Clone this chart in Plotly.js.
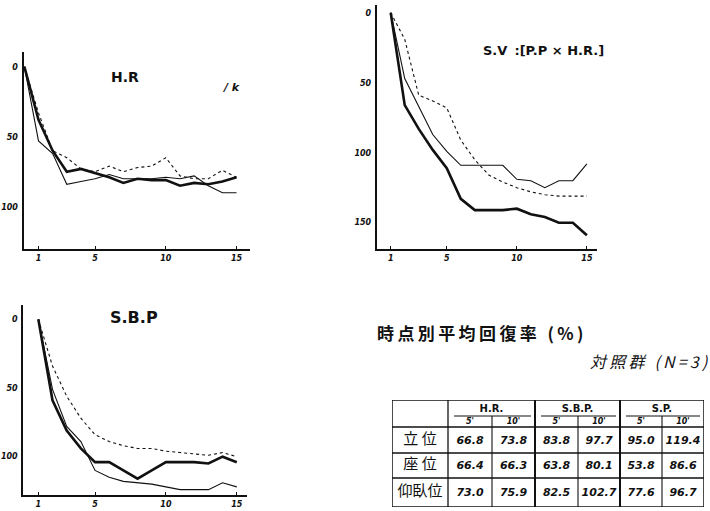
<!DOCTYPE html>
<html><head><meta charset="utf-8">
<script src="https://cdn.plot.ly/plotly-3.0.1.min.js"></script>
<style>html,body{margin:0;padding:0;background:#fff}#c{width:710px;height:511px}</style>
</head><body><div id="c"></div>
<script>
// ---- data ----
const xHR = [0,1,2,3,4,5,6,7,8,9,10,11,12,13,14,15];
const hrThick = [0,38,60,75,73,76,79,83,80,81,81,85,83,84,82,79];
const hrThin  = [0,53,62,84,82,80,77,80,80,80,79,80,78,85,90,90];
const hrDot   = [0,33,60,65,73,75,71,75,72,71,65,78,80,80,74,79];

const xMin = [1,2,3,4,5,6,7,8,9,10,11,12,13,14,15];
const svThick = [0,66,83,98,111,133,141,141,141,140,144,146,150,150,159];
const svThin  = [0,47,67,87,99,109,109,109,109,119,120,125,120,120,108];
const svDot   = [0,19,59,63,68,91,105,116,121,125,128,130,131,131,131];

const sbpThick = [0,59,81,94,104,104,110,116,110,104,104,104,105,100,104];
const sbpThin  = [0,51,78,89,110,115,118,119,120,122,124,124,124,119,122];
const sbpDot   = [0,34,56,72,84,89,92,94,94,96,97,98,99,97,100];

const xTicks = [1,5,10,15];
const yTicksHR = [0,50,100];
const yTicksSV = [0,50,100,150];
const yTicksSBP = [0,50,100];

const groupLabels = ['H.R.','S.B.P.','S.P.'];
const subLabels = ["5'","10'","5'","10'","5'","10'"];
const rowLabels = ['立 位','座 位','仰臥位'];
const tableValues = [
  ['66.8','73.8','83.8','97.7','95.0','119.4'],
  ['66.4','66.3','63.8','80.1','53.8','86.6'],
  ['73.0','75.9','82.5','102.7','77.6','96.7']
];

// ---- styling ----
const K = '#111';
const hand = {family:'DejaVu Sans', size:8, color:K, weight:700, style:'italic'};
function trio(x, thick, thin, dot, xa, ya){
  return [
    {x:x, y:dot, xaxis:xa, yaxis:ya, mode:'lines', line:{color:K, width:1.1, dash:'dot'}, hoverinfo:'skip'},
    {x:x, y:thin, xaxis:xa, yaxis:ya, mode:'lines', line:{color:K, width:1.1}, hoverinfo:'skip'},
    {x:x, y:thick, xaxis:xa, yaxis:ya, mode:'lines', line:{color:K, width:2.6}, hoverinfo:'skip'}
  ];
}
const W=710, H=511;
const px = (a,b)=>[a/W, b/W];
const py = (top,bot)=>[1-bot/H, 1-top/H];

function xax(dom, range){
  return {domain:dom, range:range, showline:true, linecolor:K, linewidth:2, showgrid:false, zeroline:false,
    tickmode:'array', tickvals:xTicks, ticktext:xTicks.map(String), ticks:'inside', ticklen:3, tickcolor:K,
    tickfont:hand, fixedrange:true};
}
function yax(dom, range, tv){
  return {domain:dom, range:range, showline:true, linecolor:K, linewidth:2, showgrid:false, zeroline:false,
    tickmode:'array', tickvals:tv, ticktext:tv.map(String), ticks:'', tickfont:hand, ticklabelstandoff:2, fixedrange:true};
}

let data = [];
data = data.concat(trio(xHR, hrThick, hrThin, hrDot, 'x', 'y'));
data = data.concat(trio(xMin, svThick, svThin, svDot, 'x2', 'y2'));
data = data.concat(trio(xMin, sbpThick, sbpThin, sbpDot, 'x3', 'y3'));

// ---- table on its own axes (pixel-like units) ----
const colEdges = [0,56,100,143,186,228,270,312];
const rowEdges = [0,27,53,78,107];
const underY = 16;
const tx=[], ty=[], tt=[];
rowLabels.forEach((r,i)=>{tx.push((colEdges[0]+colEdges[1])/2); ty.push((rowEdges[i+1]+rowEdges[i+2])/2); tt.push(r);});
const rowTrace = {x:tx, y:ty, text:tt, mode:'text', xaxis:'x4', yaxis:'y4',
  textfont:{family:'Noto Sans CJK JP', size:15, color:K}, hoverinfo:'skip'};
const nx=[], ny=[], nt=[];
tableValues.forEach((row,i)=>row.forEach((v,j)=>{nx.push((colEdges[j+1]+colEdges[j+2])/2); ny.push((rowEdges[i+1]+rowEdges[i+2])/2+1); nt.push(v);}));
const numTrace = {x:nx, y:ny, text:nt, mode:'text', xaxis:'x4', yaxis:'y4',
  textfont:{family:'DejaVu Sans', size:11, color:K, weight:600, style:'italic'}, hoverinfo:'skip'};
const gx=[], gy=[], gt=[];
groupLabels.forEach((g,k)=>{gx.push((colEdges[1+2*k]+colEdges[3+2*k])/2); gy.push(9.5); gt.push(g);});
const grpTrace = {x:gx, y:gy, text:gt, mode:'text', xaxis:'x4', yaxis:'y4',
  textfont:{family:'DejaVu Sans', size:10, color:K, weight:700}, hoverinfo:'skip'};
const sx=[], sy=[], st=[];
subLabels.forEach((s,j)=>{sx.push((colEdges[j+1]+colEdges[j+2])/2); sy.push(21.5); st.push(s);});
const subTrace = {x:sx, y:sy, text:st, mode:'text', xaxis:'x4', yaxis:'y4',
  textfont:{family:'DejaVu Sans', size:8, color:K, weight:700, style:'italic'}, hoverinfo:'skip'};
data.push(rowTrace, numTrace, grpTrace, subTrace);

const shapes = [];
function seg(x0,y0,x1,y1,w){shapes.push({type:'line', xref:'x4', yref:'y4', x0:x0, y0:y0, x1:x1, y1:y1, line:{color:K, width:w}});}
const L = colEdges[0], R = colEdges[colEdges.length-1], T = rowEdges[0], B = rowEdges[rowEdges.length-1];
seg(L,T,R,T,1.5); seg(L,B,R,B,1.5); seg(L,T,L,B,1.5); seg(R,T,R,B,1.5);
seg(colEdges[1],T,colEdges[1],B,1.3);
[3,5].forEach(k=>seg(colEdges[k],T,colEdges[k],B,2));
[2,4,6].forEach(k=>seg(colEdges[k],underY,colEdges[k],B,1.1));
for(let i=1;i<rowEdges.length-1;i++) seg(L,rowEdges[i],R,rowEdges[i],1.3);
[0,1,2].forEach(k=>seg(colEdges[1+2*k]+6,underY,colEdges[3+2*k]-4,underY,1));

const TS = '\u2009';
const ann = (text, x, y, font, xanchor) => ({text:text, xref:'paper', yref:'paper', x:x/W, y:1-y/H,
  xanchor:xanchor||'center', yanchor:'middle', showarrow:false, font:font});
const layout = {
  width:W, height:H, margin:{l:0,r:0,t:0,b:0}, paper_bgcolor:'#fff', plot_bgcolor:'rgba(0,0,0,0)',
  showlegend:false, font:{family:'DejaVu Sans', color:K},
  xaxis: xax(px(23.5,250), [-0.06,15.95]),
  yaxis: yax(py(52,249), [130.2,-10.5], yTicksHR),
  xaxis2: Object.assign(xax(px(376.7,596.7), [0,15.7]), {anchor:'y2'}),
  yaxis2: Object.assign(yax(py(5,249), [168.8,-5.5], yTicksSV), {anchor:'x2'}),
  xaxis3: Object.assign(xax(px(23.3,246.7), [-0.06,15.7]), {anchor:'y3'}),
  yaxis3: Object.assign(yax(py(305,495), [127.9,-10.4], yTicksSBP), {anchor:'x3'}),
  xaxis4: {domain:px(392,704), range:[0,312], visible:false, fixedrange:true, anchor:'y4'},
  yaxis4: {domain:py(400,507), range:[107,0], visible:false, fixedrange:true, anchor:'x4'},
  shapes: shapes,
  annotations: [
    ann('H.R', 125, 77, {family:'DejaVu Sans', size:14, weight:700}),
    ann('/ k', 231, 87, {family:'DejaVu Sans', size:11, weight:700, style:'italic'}),
    ann('S.V'+TS+' :[P.P × H.R.]', 543, 50, {family:'DejaVu Sans', size:13, weight:700}),
    ann('S.B.P', 134, 317, {family:'DejaVu Sans', size:16, weight:700}),
    ann('時点別平均回復率 (%)'.split('').join(TS), 375, 332, {family:'Noto Sans CJK JP', size:17, weight:700}, 'left'),
    ann('対照群 (N=3)'.split('').join(TS), 588, 361, {family:'Noto Sans CJK JP', size:16, style:'italic'}, 'left')
  ]
};
Plotly.newPlot('c', data, layout, {staticPlot:true, displayModeBar:false});
</script></body></html>
